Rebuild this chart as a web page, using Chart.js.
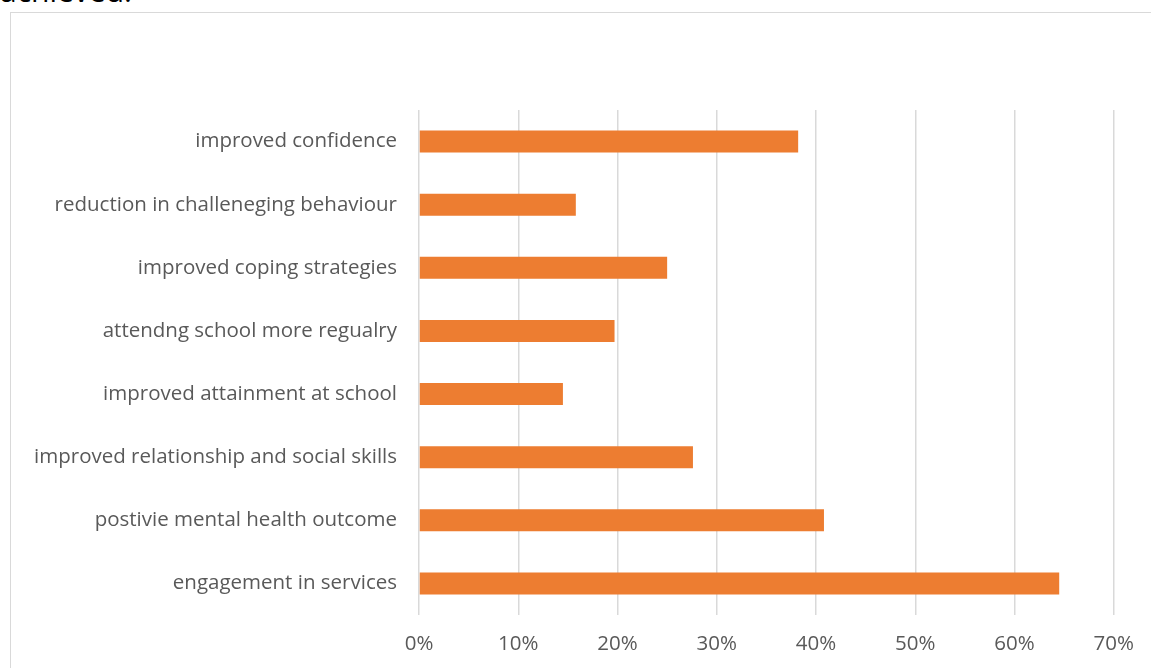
<!DOCTYPE html>
<html>
<head>
<meta charset="utf-8">
<script src="https://cdn.jsdelivr.net/npm/chart.js@4"></script>
<style>
    html, body { margin: 0; padding: 0; background: #fff; overflow: hidden; }
    body { width: 1151px; height: 668px; position: relative; }
    .caption {
        position: absolute; left: 0; top: -29px; line-height: 40px;
        font-family: 'Open Sans', sans-serif; font-size: 30px; color: #000;
    }
    .frame {
        position: absolute; left: 10px; top: 12px; width: 1200px; height: 700px;
        border: 1.5px solid #d9d9d9;
    }
    #chart { position: absolute; left: 0; top: 0; }
</style>
</head>
<body>
<div class="caption">achieved.</div>
<div class="frame"></div>
<canvas id="chart" width="1151" height="668"></canvas>
<script>
// Chart data (share of responses, %)
const categories = [
    'improved confidence',
    'reduction in challeneging behaviour',
    'improved coping strategies',
    'attendng school more regualry',
    'improved attainment at school',
    'improved relationship and social skills',
    'postivie mental health outcome',
    'engagement in services'
];
const values = [38.2, 15.8, 25.0, 19.7, 14.5, 27.6, 40.8, 64.5];
const xTicks = [0, 10, 20, 30, 40, 50, 60, 70];

const labelColor = '#595959';
const gridColor = '#d9d9d9';
const font = { family: "'Open Sans', sans-serif", size: 20.5 };

const ctx = document.getElementById('chart').getContext('2d');

new Chart(ctx, {
    type: 'bar',
    data: {
        labels: categories,
        datasets: [{
            data: values,
            backgroundColor: '#ED7D31',
            borderWidth: 0,
            categoryPercentage: 1,
            barPercentage: 0.35
        }]
    },
    options: {
        indexAxis: 'y',
        responsive: false,
        animation: false,
        layout: { padding: { top: 110, right: 37, bottom: 0, left: 0 } },
        plugins: {
            legend: { display: false },
            tooltip: { enabled: false }
        },
        scales: {
            x: {
                min: 0,
                max: 70,
                afterBuildTicks: scale => {
                    scale.ticks = xTicks.map(v => ({ value: v }));
                },
                afterFit: scale => { scale.height = 53; },
                grid: { color: gridColor, lineWidth: 1.5, drawTicks: false },
                border: { display: false },
                ticks: {
                    padding: 17,
                    color: labelColor,
                    font: font,
                    callback: value => value + '%'
                }
            },
            y: {
                afterFit: scale => { scale.width = 419; },
                grid: { display: false, drawTicks: false },
                border: { display: false },
                ticks: {
                    padding: 22,
                    color: labelColor,
                    font: font
                }
            }
        }
    }
});
</script>
</body>
</html>
